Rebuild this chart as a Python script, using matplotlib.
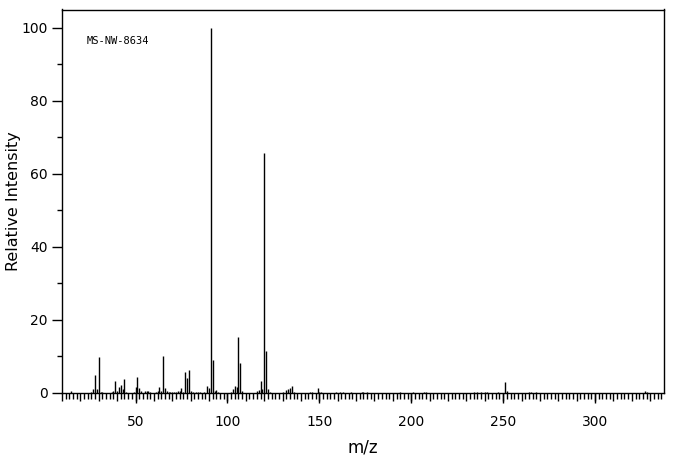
import numpy as np
import matplotlib.pyplot as plt
from matplotlib.ticker import MultipleLocator, FuncFormatter

# Données du spectre (m/z, intensité relative)
mz = [15, 26, 27, 28, 29, 30, 31, 32, 37, 38, 39, 40, 41, 42, 43, 44, 45,
      49, 50, 51, 52, 53, 55, 56, 57, 58, 61, 62, 63, 64, 65, 66, 67, 68,
      69, 70, 71, 72, 73, 74, 75, 76, 77, 78, 79, 80, 81, 83, 84, 85, 87,
      89, 90, 91, 92, 93, 94, 95, 102, 103, 104, 105, 106, 107, 108,
      116, 117, 118, 119, 120, 121, 122, 123, 130, 132, 133, 134, 135, 136,
      145, 146, 149, 150, 151, 159, 161, 163, 167, 173, 174, 176, 194, 201,
      207, 208, 234, 236, 238, 240, 241, 247, 251, 252, 264, 265, 268,
      327, 328]
intensite = [0.5, 0.4, 1.1, 5.0, 1.1, 9.9, 0.3, 0.3, 0.3, 0.5, 3.3, 0.5, 1.7, 2.3, 1.1, 3.8, 0.3,
             0.3, 1.6, 4.4, 1.4, 0.5, 0.5, 0.5, 0.5, 0.3, 0.3, 0.5, 1.6, 0.5, 10.1, 1.4, 0.5, 0.3,
             0.4, 0.3, 0.3, 0.3, 0.5, 0.5, 1.4, 0.3, 5.8, 4.1, 6.3, 0.5, 0.3, 0.3, 0.3, 0.3, 0.3,
             2.0, 1.4, 100.0, 9.0, 0.5, 0.8, 0.3, 0.3, 1.2, 1.9, 1.6, 15.3, 8.2, 0.5,
             0.5, 0.8, 3.3, 1.1, 65.6, 11.5, 1.1, 0.3, 0.3, 0.8, 1.1, 1.4, 2.0, 0.3,
             0.3, 0.3, 1.3, 0.3, 0.3, 0.3, 0.3, 0.3, 0.3, 0.4, 0.3, 0.3, 0.3, 0.3,
             0.3, 0.3, 0.3, 0.3, 0.3, 0.3, 0.3, 0.3, 3.1, 0.6, 0.3, 0.3, 0.3,
             0.6, 0.4]

fig = plt.figure(figsize=(6.76, 4.55), dpi=100)
ax = fig.add_axes([62 / 676, 62 / 455, 602 / 676, 383.5 / 455])

ax.vlines(mz, 0, intensite, colors='black', linewidth=1.0)

ax.set_xlim(10, 337.5)
ax.set_ylim(0, 105)

# Graduations x : tous les 2, tous les 10, étiquettes tous les 50
ax.xaxis.set_major_locator(MultipleLocator(10))
ax.xaxis.set_minor_locator(MultipleLocator(2))
ax.xaxis.set_major_formatter(FuncFormatter(lambda v, p: f"{v:.0f}" if v % 50 == 0 else ""))
ax.tick_params(axis='x', which='major', length=5.5, width=1, pad=10, labelsize=10)
ax.tick_params(axis='x', which='minor', length=4, width=1)

sec = ax.secondary_xaxis('bottom')
sec.set_xticks([50, 100, 150, 200, 250, 300])
sec.set_xticklabels([])
sec.tick_params(length=7.5, width=1)
sec.spines['bottom'].set_visible(False)

# Graduations y
ax.yaxis.set_major_locator(MultipleLocator(20))
ax.yaxis.set_minor_locator(MultipleLocator(10))
ax.tick_params(axis='y', which='major', length=7, width=1, labelsize=10)
ax.tick_params(axis='y', which='minor', length=3.6, width=1)

for s in ax.spines.values():
    s.set_linewidth(1)

ax.set_xlabel("m/z", fontsize=12)
ax.xaxis.set_label_coords(0.5, -0.118)
ax.set_ylabel("Relative Intensity", fontsize=11.5)
ax.yaxis.set_label_coords(-0.068, 0.5)

fig.text(87 / 676, 1 - 41 / 455, "MS-NW-8634", fontsize=7.5,
         family='DejaVu Sans Mono', va='center')

fig.savefig("out.png", dpi=100)
